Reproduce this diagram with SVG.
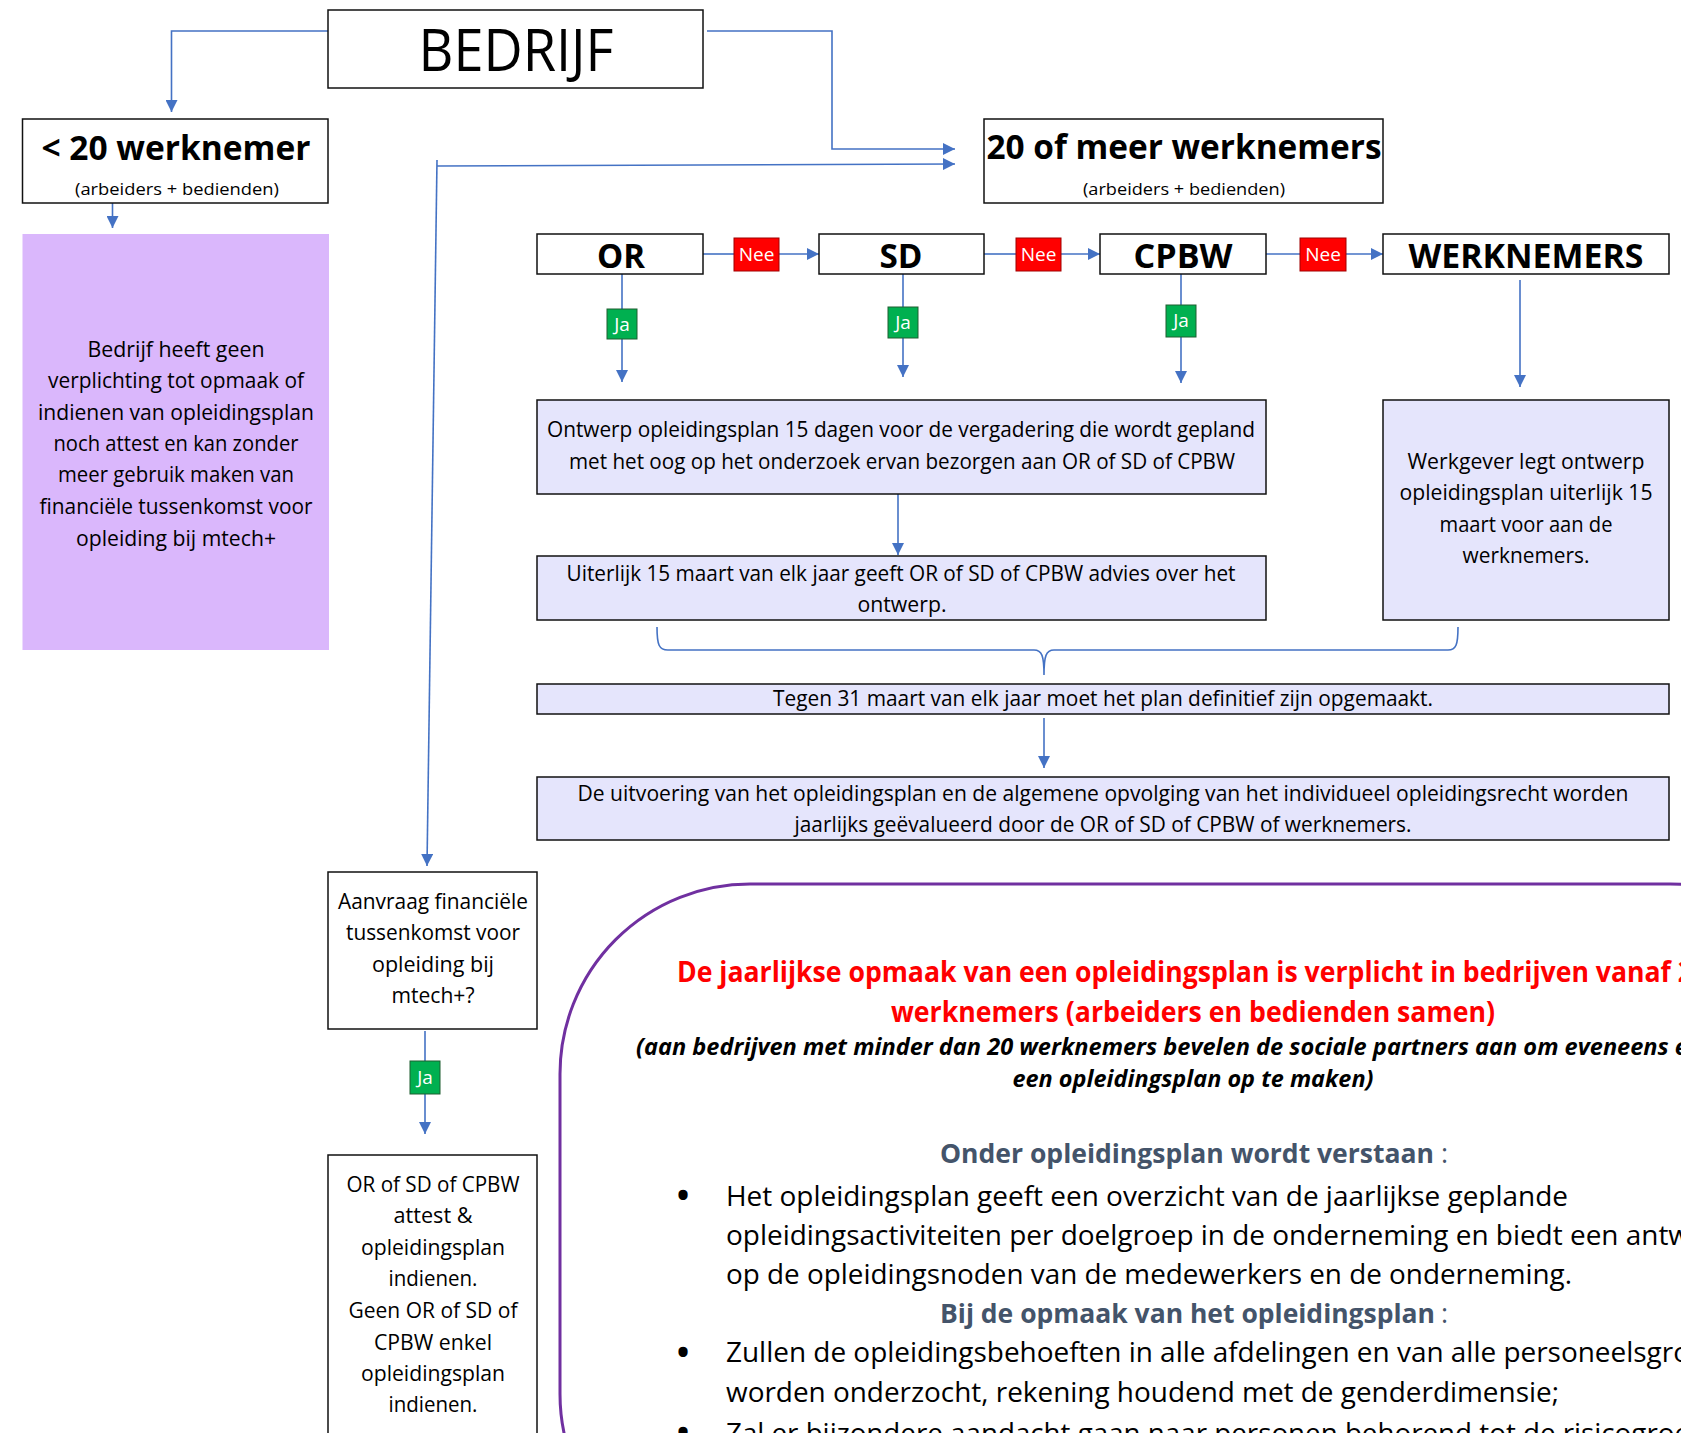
<svg xmlns="http://www.w3.org/2000/svg" width="1681" height="1433" viewBox="0 0 1681 1433">
<style>
.t{font-family:'Open Sans','Liberation Sans',sans-serif;fill:#000}
.c{text-anchor:middle}
.b{font-weight:bold}
.box{fill:#fff;stroke:#111;stroke-width:1.5}
.lav{fill:#E5E5FC;stroke:#111;stroke-width:1.5}
.conn{stroke:#4472C4;stroke-width:1.6;fill:none}
.arr{marker-end:url(#ah)}
.nee{fill:#FF0000;stroke:#A00000;stroke-width:1}
.ja{fill:#00B050;stroke:#1E5E30;stroke-width:1}
.lbl{font-family:'Open Sans','Liberation Sans',sans-serif;fill:#fff;font-size:19px;text-anchor:middle}
.bx{font-size:21px}
.sub{font-size:16.5px}
.hd{font-size:34px;font-weight:bold}
.bl{font-size:27px}
.dot{font-size:44px;text-anchor:middle}
.gh{font-size:27px;fill:#44546A;font-weight:bold}
.gc{font-size:27px;fill:#44546A}
</style>
<defs>
<marker id="ah" viewBox="0 0 12 12" refX="12" refY="6" markerWidth="12" markerHeight="12" markerUnits="userSpaceOnUse" orient="auto">
<path d="M0,0 L12,6 L0,12 z" fill="#4472C4"/>
</marker>
</defs>

<g id="connectors">
<path class="conn arr" d="M328,31 L171.5,31 L171.5,112"/>
<path class="conn arr" d="M707,31 L832,31 L832,149 L955,149"/>
<path class="conn arr" d="M112.5,203 L112.5,228"/>
<path class="conn arr" d="M437,166 L955,164"/>
<path class="conn arr" d="M437,160 L427,866"/>
<path class="conn" d="M703,254 L734,254"/>
<path class="conn arr" d="M779,254 L819,254"/>
<path class="conn" d="M984,254 L1016,254"/>
<path class="conn arr" d="M1061,254 L1100,254"/>
<path class="conn" d="M1266,254 L1300,254"/>
<path class="conn arr" d="M1346,254 L1383,254"/>
<path class="conn" d="M622,274 L622,309"/>
<path class="conn arr" d="M622,339 L622,382"/>
<path class="conn" d="M903,274 L903,307"/>
<path class="conn arr" d="M903,338 L903,377"/>
<path class="conn" d="M1181,274 L1181,305"/>
<path class="conn arr" d="M1181,337 L1181,383"/>
<path class="conn arr" d="M1520,280 L1520,387"/>
<path class="conn arr" d="M898,494 L898,555"/>
<path class="conn" d="M657,627 C657,645 659,650 668,650 L1034,650 C1042,650 1044,656 1044,675 C1044,656 1046,650 1054,650 L1448,650 C1456,650 1458,645 1458,627"/>
<path class="conn arr" d="M1044,718 L1044,768"/>
<path class="conn" d="M425,1031 L425,1061"/>
<path class="conn arr" d="M425,1094 L425,1134"/>
</g>

<g id="bedrijf">
<rect class="box" x="328" y="10" width="375" height="78"/>
<text class="t c" x="516" y="71" font-size="58" textLength="195" lengthAdjust="spacingAndGlyphs">BEDRIJF</text>
</g>

<g id="klein">
<rect class="box" x="22.5" y="119" width="305.5" height="84"/>
<text class="t c hd" x="176" y="160" textLength="269" lengthAdjust="spacingAndGlyphs">&lt; 20 werknemer</text>
<text class="t c sub" x="177" y="195" textLength="204" lengthAdjust="spacingAndGlyphs">(arbeiders + bedienden)</text>
</g>

<g id="geen-verplichting">
<rect x="22.5" y="234" width="306.5" height="416" fill="#DAB7FC"/>
<text class="t c bx" x="176" y="357" textLength="177" lengthAdjust="spacingAndGlyphs">Bedrijf heeft geen</text>
<text class="t c bx" x="176" y="388" textLength="256" lengthAdjust="spacingAndGlyphs">verplichting tot opmaak of</text>
<text class="t c bx" x="176" y="420" textLength="276" lengthAdjust="spacingAndGlyphs">indienen van opleidingsplan</text>
<text class="t c bx" x="176" y="451" textLength="245" lengthAdjust="spacingAndGlyphs">noch attest en kan zonder</text>
<text class="t c bx" x="176" y="482" textLength="236" lengthAdjust="spacingAndGlyphs">meer gebruik maken van</text>
<text class="t c bx" x="176" y="514" textLength="273" lengthAdjust="spacingAndGlyphs">financiële tussenkomst voor</text>
<text class="t c bx" x="176" y="546" textLength="200" lengthAdjust="spacingAndGlyphs">opleiding bij mtech+</text>
</g>

<g id="groot">
<rect class="box" x="984" y="119" width="399" height="84"/>
<text class="t c hd" x="1184" y="159" textLength="395" lengthAdjust="spacingAndGlyphs">20 of meer werknemers</text>
<text class="t c sub" x="1184" y="195" textLength="202" lengthAdjust="spacingAndGlyphs">(arbeiders + bedienden)</text>
</g>

<g id="or">
<rect class="box" x="537" y="234" width="166" height="40"/>
<text class="t c hd" x="621" y="268" textLength="48" lengthAdjust="spacingAndGlyphs">OR</text>
</g>
<g id="sd">
<rect class="box" x="819" y="234" width="165" height="40"/>
<text class="t c hd" x="901" y="268" textLength="43" lengthAdjust="spacingAndGlyphs">SD</text>
</g>
<g id="cpbw">
<rect class="box" x="1100" y="234" width="166" height="40"/>
<text class="t c hd" x="1183" y="268" textLength="99" lengthAdjust="spacingAndGlyphs">CPBW</text>
</g>
<g id="werknemers">
<rect class="box" x="1383" y="234" width="286" height="40"/>
<text class="t c hd" x="1526" y="268" textLength="235" lengthAdjust="spacingAndGlyphs">WERKNEMERS</text>
</g>

<g id="nee-1"><rect class="nee" x="734" y="238" width="45" height="33"/><text class="lbl" x="756.5" y="261">Nee</text></g>
<g id="nee-2"><rect class="nee" x="1016" y="238" width="45" height="33"/><text class="lbl" x="1038.5" y="261">Nee</text></g>
<g id="nee-3"><rect class="nee" x="1300" y="238" width="46" height="33"/><text class="lbl" x="1323" y="261">Nee</text></g>

<g id="ja-1"><rect class="ja" x="607" y="309" width="30" height="30"/><text class="lbl" x="622" y="331">Ja</text></g>
<g id="ja-2"><rect class="ja" x="888" y="307" width="30" height="31"/><text class="lbl" x="903" y="329">Ja</text></g>
<g id="ja-3"><rect class="ja" x="1166" y="305" width="30" height="32"/><text class="lbl" x="1181" y="327">Ja</text></g>
<g id="ja-4"><rect class="ja" x="410" y="1061" width="30" height="33"/><text class="lbl" x="425" y="1084">Ja</text></g>

<g id="ontwerp">
<rect class="lav" x="537" y="400" width="729" height="94"/>
<text class="t c bx" x="901" y="437" textLength="708" lengthAdjust="spacingAndGlyphs">Ontwerp opleidingsplan 15 dagen voor de vergadering die wordt gepland</text>
<text class="t c bx" x="902" y="469" textLength="666" lengthAdjust="spacingAndGlyphs">met het oog op het onderzoek ervan bezorgen aan OR of SD of CPBW</text>
</g>

<g id="advies">
<rect class="lav" x="537" y="556" width="729" height="64"/>
<text class="t c bx" x="901" y="581" textLength="669" lengthAdjust="spacingAndGlyphs">Uiterlijk 15 maart van elk jaar geeft OR of SD of CPBW advies over het</text>
<text class="t c bx" x="902" y="612" textLength="89" lengthAdjust="spacingAndGlyphs">ontwerp.</text>
</g>

<g id="werkgever">
<rect class="lav" x="1383" y="400" width="286" height="220"/>
<text class="t c bx" x="1526" y="469" textLength="237" lengthAdjust="spacingAndGlyphs">Werkgever legt ontwerp</text>
<text class="t c bx" x="1526" y="500" textLength="253" lengthAdjust="spacingAndGlyphs">opleidingsplan uiterlijk 15</text>
<text class="t c bx" x="1526" y="532" textLength="173" lengthAdjust="spacingAndGlyphs">maart voor aan de</text>
<text class="t c bx" x="1526" y="563" textLength="127" lengthAdjust="spacingAndGlyphs">werknemers.</text>
</g>

<g id="definitief">
<rect class="lav" x="537" y="684" width="1132" height="30"/>
<text class="t c bx" x="1103" y="706" textLength="660" lengthAdjust="spacingAndGlyphs">Tegen 31 maart van elk jaar moet het plan definitief zijn opgemaakt.</text>
</g>

<g id="evaluatie">
<rect class="lav" x="537" y="777" width="1132" height="63"/>
<text class="t c bx" x="1103" y="801" textLength="1051" lengthAdjust="spacingAndGlyphs">De uitvoering van het opleidingsplan en de algemene opvolging van het individueel opleidingsrecht worden</text>
<text class="t c bx" x="1103" y="832" textLength="617" lengthAdjust="spacingAndGlyphs">jaarlijks geëvalueerd door de OR of SD of CPBW of werknemers.</text>
</g>

<g id="aanvraag">
<rect class="box" x="328" y="872" width="209" height="157"/>
<text class="t c bx" x="433" y="909" textLength="190" lengthAdjust="spacingAndGlyphs">Aanvraag financiële</text>
<text class="t c bx" x="433" y="940" textLength="174" lengthAdjust="spacingAndGlyphs">tussenkomst voor</text>
<text class="t c bx" x="433" y="972" textLength="122" lengthAdjust="spacingAndGlyphs">opleiding bij</text>
<text class="t c bx" x="433" y="1003" textLength="83" lengthAdjust="spacingAndGlyphs">mtech+?</text>
</g>

<g id="indienen">
<rect class="box" x="328" y="1155" width="209" height="300"/>
<text class="t c bx" x="433" y="1192" textLength="173" lengthAdjust="spacingAndGlyphs">OR of SD of CPBW</text>
<text class="t c bx" x="433" y="1223" textLength="79" lengthAdjust="spacingAndGlyphs">attest &amp;</text>
<text class="t c bx" x="433" y="1255" textLength="144" lengthAdjust="spacingAndGlyphs">opleidingsplan</text>
<text class="t c bx" x="433" y="1286" textLength="89" lengthAdjust="spacingAndGlyphs">indienen.</text>
<text class="t c bx" x="433" y="1318" textLength="169" lengthAdjust="spacingAndGlyphs">Geen OR of SD of</text>
<text class="t c bx" x="433" y="1350" textLength="118" lengthAdjust="spacingAndGlyphs">CPBW enkel</text>
<text class="t c bx" x="433" y="1381" textLength="144" lengthAdjust="spacingAndGlyphs">opleidingsplan</text>
<text class="t c bx" x="433" y="1412" textLength="89" lengthAdjust="spacingAndGlyphs">indienen.</text>
</g>

<g id="info">
<rect x="560" y="884" width="1300" height="700" rx="190" ry="190" fill="none" stroke="#7030A0" stroke-width="3"/>
<text class="t b" x="677" y="982" font-size="29" style="fill:#FF0000" textLength="1016" lengthAdjust="spacingAndGlyphs">De jaarlijkse opmaak van een opleidingsplan is verplicht in bedrijven vanaf 2</text>
<text class="t b c" x="1193" y="1022" font-size="29" style="fill:#FF0000" textLength="604" lengthAdjust="spacingAndGlyphs">werknemers (arbeiders en bedienden samen)</text>
<text class="t b" x="636" y="1055" font-size="23" font-style="italic" textLength="1052" lengthAdjust="spacingAndGlyphs">(aan bedrijven met minder dan 20 werknemers bevelen de sociale partners aan om eveneens e</text>
<text class="t b c" x="1193" y="1087" font-size="23" font-style="italic" textLength="361" lengthAdjust="spacingAndGlyphs">een opleidingsplan op te maken)</text>
<text class="t gh" x="940" y="1163" textLength="494" lengthAdjust="spacingAndGlyphs">Onder opleidingsplan wordt verstaan</text>
<text class="t gc" x="1441" y="1163">:</text>
<text class="t dot" x="683" y="1211">•</text>
<text class="t bl" x="726" y="1206" textLength="842" lengthAdjust="spacingAndGlyphs">Het opleidingsplan geeft een overzicht van de jaarlijkse geplande</text>
<text class="t bl" x="726" y="1245" textLength="964" lengthAdjust="spacingAndGlyphs">opleidingsactiviteiten per doelgroep in de onderneming en biedt een antw</text>
<text class="t bl" x="726" y="1284" textLength="846" lengthAdjust="spacingAndGlyphs">op de opleidingsnoden van de medewerkers en de onderneming.</text>
<text class="t gh" x="940" y="1323" textLength="495" lengthAdjust="spacingAndGlyphs">Bij de opmaak van het opleidingsplan</text>
<text class="t gc" x="1441" y="1323">:</text>
<text class="t dot" x="683" y="1368">•</text>
<text class="t bl" x="726" y="1362" textLength="964" lengthAdjust="spacingAndGlyphs">Zullen de opleidingsbehoeften in alle afdelingen en van alle personeelsgro</text>
<text class="t bl" x="726" y="1402" textLength="833" lengthAdjust="spacingAndGlyphs">worden onderzocht, rekening houdend met de genderdimensie;</text>
<text class="t dot" x="683" y="1448">•</text>
<text class="t bl" x="726" y="1443" textLength="964" lengthAdjust="spacingAndGlyphs">Zal er bijzondere aandacht gaan naar personen behorend tot de risicogroe</text>
</g>
</svg>
